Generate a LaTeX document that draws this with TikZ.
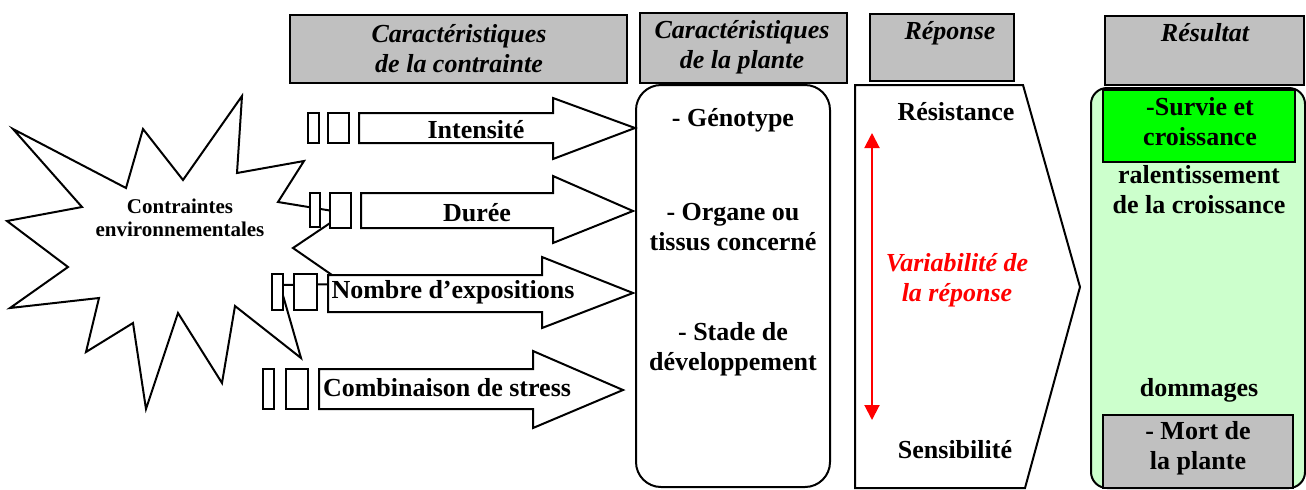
\documentclass[tikz,border=0pt]{standalone}
\usepackage{fontspec}
\setmainfont{Liberation Serif}
\usepackage{tikz}
\usetikzlibrary{arrows.meta}

\definecolor{boxgray}{HTML}{C0C0C0}
\definecolor{palegreen}{HTML}{CCFFCC}
\definecolor{brightgreen}{HTML}{00FF00}

\begin{document}
\begin{tikzpicture}[x=0.5pt,y=-0.5pt,line width=1pt,
            every node/.style={inner sep=0pt,align=center,
              font=\bfseries\fontsize{13}{15}\selectfont}]
        \tikzstyle{header}=[draw=black,fill=boxgray]
        \tikzstyle{title}=[font=\bfseries\itshape\fontsize{13}{15}\selectfont]
        \tikzstyle{blockarrow}=[draw=black,fill=white]
        \tikzstyle{tick}=[draw=black,fill=white]

        \useasboundingbox (0,0) rectangle (1306,489);

        % headers
        \draw[header] (290,15) rectangle (627,83);
        \draw[header] (640,13) rectangle (847,83);
        \draw[header] (870,14) rectangle (1014,81);
        \draw[header] (1105,16) rectangle (1304,85);
        \node[title] (hcontr) at (459,49) {Caractéristiques\\de la contrainte};
        \node[title] (hplant) at (742,47) {Caractéristiques\\de la plante};
        \node[title] (hrep) at (950,33) {Réponse};
        \node[title] (hres) at (1205,33) {Résultat};

        % contraintes
        \draw[draw=black,fill=white] (13,129) -- (126,188) -- (143,129) -- (183,180)
            -- (242,96) -- (237,173) -- (304,161) -- (278,202) -- (345,213)
            -- (293,248) -- (345,284) -- (280,285) -- (301,358) -- (235,306)
            -- (222,383) -- (178,313) -- (146,409) -- (133,323) -- (86,352)
            -- (99,298) -- (10,308) -- (68,267) -- (7,221) -- (82,207) -- cycle;
        \node[font=\bfseries\fontsize{10.5}{11.5}\selectfont] (env) at (180,218)
            {Contraintes\\environnementales};

        \draw[tick] (308,113) rectangle (319,143);
        \draw[tick] (328,113) rectangle (349,143);
        \draw[tick] (310,193) rectangle (320,227);
        \draw[tick] (330,193) rectangle (351,228);
        \draw[tick] (272,274) rectangle (283,310);
        \draw[tick] (294,274) rectangle (317,310);
        \draw[tick] (263,369) rectangle (274,409);
        \draw[tick] (286,369) rectangle (308,409);

        \draw[blockarrow] (359,113) -- (553,113) -- (553,98) -- (635,128)
            -- (553,159) -- (553,143) -- (359,143) -- cycle;
        \draw[blockarrow] (361,193) -- (553,193) -- (553,176) -- (633,211)
            -- (553,243) -- (553,228) -- (361,228) -- cycle;
        \draw[blockarrow] (328,275) -- (542,275) -- (542,257) -- (633,293)
            -- (542,328) -- (542,312) -- (328,312) -- cycle;
        \draw[blockarrow] (319,369) -- (533,369) -- (533,351) -- (623,390)
            -- (533,428) -- (533,409) -- (319,409) -- cycle;
        \node (int) at (476,130) {Intensité};
        \node (dur) at (477,213) {Durée};
        \node (nbr) at (453,292) {Nombre d’expositions};
        \node (comb) at (447,388) {Combinaison de stress};

        % plante
        \draw[rounded corners=12.5pt] (636,85) rectangle (830,487);
        \node (geno) at (733,120) {- Génotype};
        \node (organe) at (733,227) {- Organe ou\\tissus concerné};
        \node (stade) at (733,349) {- Stade de\\développement};

        % reponse
        \draw (855,85) -- (1023,85) -- (1080,287) -- (1025,488) -- (855,488) -- cycle;
        \node (resist) at (956,112) {Résistance};
        \node (sensib) at (955,450) {Sensibilité};
        \node[text=red,font=\bfseries\itshape\fontsize{13}{15}\selectfont] (var)
            at (957,280) {Variabilité de\\la réponse};
        \coordinate (vtop) at (872,133);
        \coordinate (vbot) at (872,420);
        \draw[red,{Triangle[width=7.5pt,length=7.5pt]}-{Triangle[width=7.5pt,length=7.5pt]}]
            (vtop) -- (vbot);

        % resultat
        \draw[fill=palegreen,rounded corners=8pt] (1091,88) rectangle (1305,488);
        \draw[fill=brightgreen] (1103,90) rectangle (1295,162);
        \draw[fill=boxgray] (1103,415) rectangle (1293,488);
        \node (survie) at (1200,122) {-Survie et\\croissance};
        \node (ralent) at (1199,190) {ralentissement\\de la croissance};
        \node (domm) at (1199,390) {dommages};
        \node (mort) at (1198,448) {- Mort de\\la plante};
\end{tikzpicture}
\end{document}
